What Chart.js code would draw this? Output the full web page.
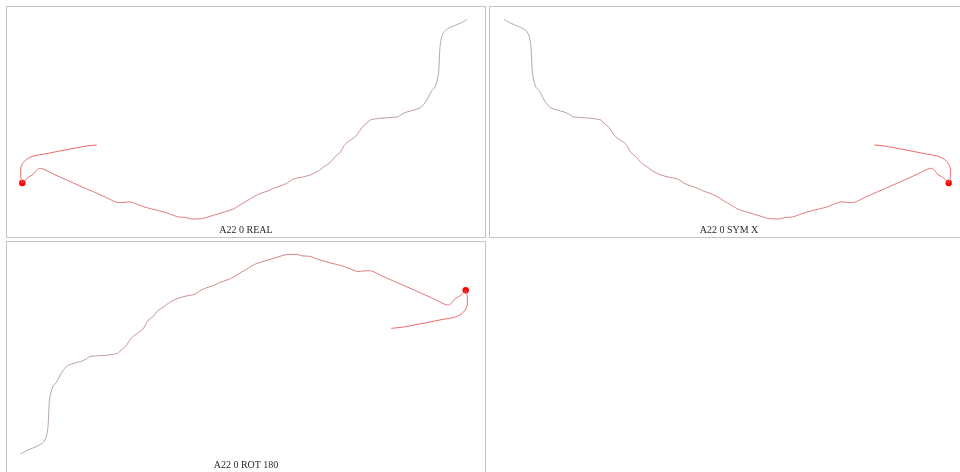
<!DOCTYPE html>
<html>
<head>
<meta charset="utf-8">
<script src="https://cdn.jsdelivr.net/npm/chart.js@4.4.1/dist/chart.umd.min.js"></script>
<style>
  html, body { margin: 0; padding: 0; background: #fff; overflow: hidden; width: 960px; height: 472px; }
  .grid { display: grid; grid-template-columns: 480px 480px; grid-auto-rows: 232px; gap: 3px; padding: 6px; }
  .panel { position: relative; width: 480px; height: 232px; box-sizing: border-box; border: 1px solid #c4c4c4; }
  .panel canvas { position: absolute; left: 0; top: 0; }
  .label { position: absolute; left: 0; right: 0; top: 217px; height: 12px; line-height: 12px;
           text-align: center; font: 10px "Liberation Serif", "DejaVu Serif", serif; color: #2a2a2a; }
</style>
</head>
<body>
<div class="grid" id="grid"></div>
<script>
// ============ Data ============
// trajectory, from the open red end through the marked point to the grey end
const pathX = [76.7, 66.7, 50, 33.3, 23.3, 13.3, 6.7, 2.7, 0.7, 0.7, 1.7, 2.3,
    5, 8.3, 13.3, 16, 19.3, 23.3, 33.3, 46.7, 60, 73.3, 86.7, 96.7, 105, 110,
    115, 123.3, 140, 150, 158.3, 165, 171.7, 181.7, 190, 200, 213.3, 220, 226.7,
    235, 240, 248.3, 253.3, 260, 266.7, 273.3, 281.7, 290, 298.3, 305, 310, 315,
    320, 325, 331.7, 336.7, 341.7, 348.3, 350, 360, 373.3, 378.3, 381.7, 386.7,
    396.7, 401.7, 405, 408.3, 411.7, 415, 417.3, 418.7, 419.3, 420, 421.7, 425,
    431.7, 440, 447.3];
const pathY = [74, 73, 70, 66.7, 64.7, 63, 59.7, 55.7, 50.7, 42.3, 37.3, 36,
    39, 41.7, 44.7, 48.3, 50.7, 50, 45, 39, 33, 27.3, 21.3, 16.7, 16.7, 17.2,
    15.7, 12.3, 8, 5, 2, 1.7, 0, 0.3, 2.7, 5.7, 10, 14, 18, 23, 25.3, 28.3,
    30.7, 33, 35.7, 40, 41.7, 44, 48, 53, 56.3, 62.3, 66.3, 74.7, 79.7, 83.7,
    91.3, 97, 99, 100.7, 101.7, 102.3, 104.7, 107, 109.7, 112.3, 116.3, 121.7,
    128.3, 131.7, 139, 147.3, 159, 172.3, 182.3, 188.3, 192.3, 195.7, 199.7];
const markX = [2.3];
const markY = [36];

const panelTitles = ['A22 0 REAL', 'A22 0 SYM X', 'A22 0 ROT 180'];
const reverseX = [false, true, true];
const reverseY = [false, false, true];

const START_RGB = [242, 100, 100];
const END_RGB = [178, 174, 174];

// ============ Helpers ============
const pathPoints = pathX.map((x, i) => ({ x, y: pathY[i] }));
const markPoints = markX.map((x, i) => ({ x, y: markY[i] }));

function colorAt(index) {
    const t = index / (pathX.length - 1);
    const c = START_RGB.map((s, k) => Math.round(s + (END_RGB[k] - s) * t));
    return `rgb(${c[0]}, ${c[1]}, ${c[2]})`;
}

function makePanel(i) {
    const panel = document.createElement('div');
    panel.className = 'panel';
    const canvas = document.createElement('canvas');
    canvas.width = 478;
    canvas.height = 230;
    panel.appendChild(canvas);
    const label = document.createElement('div');
    label.className = 'label';
    label.textContent = panelTitles[i];
    panel.appendChild(label);
    document.getElementById('grid').appendChild(panel);

    new Chart(canvas.getContext('2d'), {
        type: 'scatter',
        data: {
            datasets: [{
                data: pathPoints,
                showLine: true,
                borderWidth: 1,
                tension: 0.3,
                pointRadius: 0,
                clip: false,
                segment: { borderColor: ctx => colorAt(ctx.p0DataIndex) }
            }, {
                data: markPoints,
                pointRadius: 3.2,
                pointBackgroundColor: '#ff0000',
                pointBorderColor: '#ff0000',
                borderWidth: 0,
                clip: false
            }]
        },
        options: {
            responsive: false,
            animation: false,
            layout: { padding: { left: 13.7, right: 17.7, top: 12.3, bottom: 18 } },
            plugins: { legend: { display: false }, tooltip: { enabled: false } },
            scales: {
                x: { type: 'linear', display: false, reverse: reverseX[i],
                     min: Math.min(...pathX), max: Math.max(...pathX) },
                y: { type: 'linear', display: false, reverse: reverseY[i],
                     min: Math.min(...pathY), max: Math.max(...pathY) }
            }
        }
    });
}

// ============ Initialize ============
panelTitles.forEach((_, i) => makePanel(i));
</script>
</body>
</html>
